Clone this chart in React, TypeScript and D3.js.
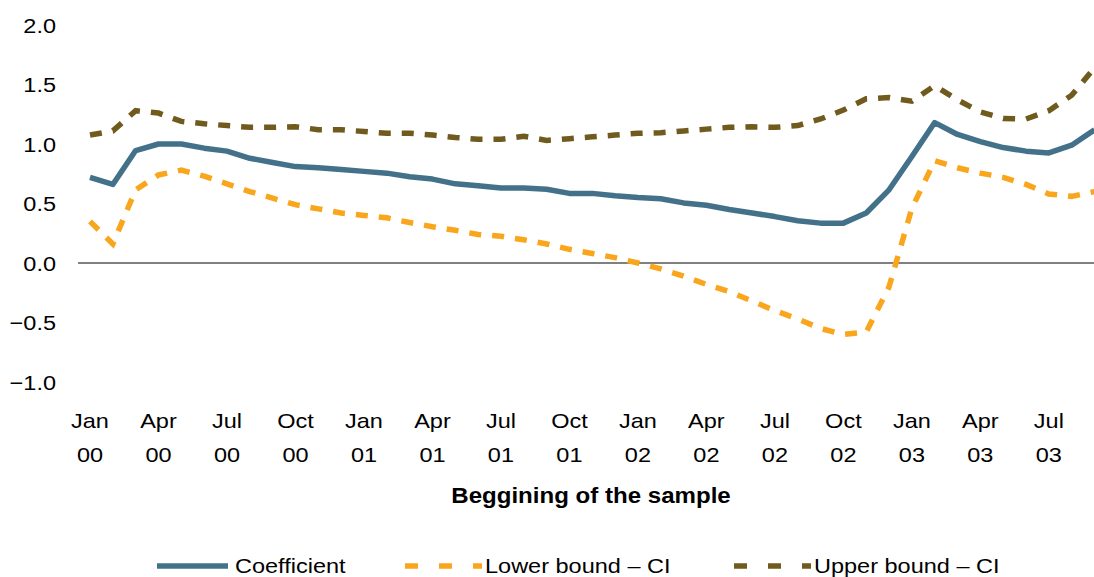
import React from "react";
import * as d3 from "d3";

// Monthly sample start dates, Jan 2000 – Sep 2003
const months = ["Jan", "Feb", "Mar", "Apr", "May", "Jun", "Jul", "Aug", "Sep", "Oct", "Nov", "Dec"];
const startYear = 2000;
const nPoints = 45;

const coefficient = [
  0.72, 0.66, 0.945, 1.0, 1.0, 0.965, 0.94, 0.88, 0.845, 0.81, 0.8, 0.785,
  0.77, 0.755, 0.725, 0.705, 0.665, 0.65, 0.63, 0.63, 0.62, 0.585, 0.585, 0.565,
  0.55, 0.54, 0.505, 0.485, 0.45, 0.42, 0.39, 0.355, 0.335, 0.335, 0.42, 0.615,
  0.895, 1.18, 1.08, 1.02, 0.97, 0.94, 0.925, 0.99, 1.12,
];

const lowerBound = [
  0.35, 0.16, 0.615, 0.74, 0.78, 0.73, 0.665, 0.6, 0.545, 0.49, 0.455, 0.42,
  0.4, 0.38, 0.34, 0.305, 0.275, 0.24, 0.225, 0.195, 0.16, 0.115, 0.08, 0.045,
  0.0, -0.05, -0.11, -0.18, -0.24, -0.32, -0.4, -0.47, -0.55, -0.6, -0.58, -0.2,
  0.46, 0.86, 0.8, 0.755, 0.72, 0.66, 0.58, 0.56, 0.6,
];

const upperBound = [
  1.075, 1.11, 1.28, 1.26, 1.19, 1.17, 1.155, 1.14, 1.14, 1.145, 1.12, 1.12,
  1.105, 1.09, 1.09, 1.075, 1.055, 1.04, 1.04, 1.065, 1.03, 1.045, 1.06, 1.075,
  1.09, 1.095, 1.11, 1.125, 1.14, 1.145, 1.14, 1.155, 1.21, 1.285, 1.38, 1.39,
  1.36, 1.49, 1.37, 1.27, 1.215, 1.21, 1.28, 1.41, 1.64,
];

const yTicks = [2.0, 1.5, 1.0, 0.5, 0.0, -0.5, -1.0];

const seriesNames = ["Coefficient", "Lower bound – CI", "Upper bound – CI"];

const W = 1094;
const H = 577;
const FONT = "'Liberation Sans', Arial, Helvetica, sans-serif";
const SX = 1.12; // horizontal text stretch

const COLORS = { coef: "#43718A", lower: "#F9A61C", upper: "#705A1E" };

const fmt = (v: number) => (v < 0 ? "\u2212" : "") + Math.abs(v).toFixed(1);

function Label(props: {
  x: number;
  y: number;
  anchor?: string;
  bold?: boolean;
  size?: number;
  children: React.ReactNode;
}) {
  const { x, y, anchor = "start", bold = false, size = 21, children } = props;
  return (
    <text
      transform={`translate(${x},${y}) scale(${SX},1)`}
      textAnchor={anchor}
      fontFamily={FONT}
      fontSize={size}
      fontWeight={bold ? "bold" : "normal"}
      fill="#000"
    >
      {children}
    </text>
  );
}

export default function App() {
  const idx = d3.range(nPoints);
  const x = d3.scaleLinear().domain([0, nPoints - 1]).range([90, 90 + 22.83 * (nPoints - 1)]);
  const y = d3.scaleLinear().domain([-1, 2]).range([382, 25]);

  const line = d3
    .line<number>()
    .x((_, i) => x(i))
    .y((d) => y(d));

  const ticks = idx.filter((i) => i % 3 === 0);

  return (
    <svg
      width={W}
      height={H}
      style={{ position: "absolute", left: 0, top: 0, background: "#fff" }}
    >
      <rect width={W} height={H} fill="#fff" />

      {/* y-axis labels */}
      {yTicks.map((t) => (
        <Label key={t} x={56} y={y(t) + 7.5} anchor="end">
          {fmt(t)}
        </Label>
      ))}

      {/* zero line */}
      <line x1={78} x2={W} y1={y(0)} y2={y(0)} stroke="#808080" strokeWidth={2} />

      {/* series */}
      <path d={line(upperBound) || ""} fill="none" stroke={COLORS.upper} strokeWidth={5.5} strokeDasharray="12,11" />
      <path d={line(lowerBound) || ""} fill="none" stroke={COLORS.lower} strokeWidth={5.5} strokeDasharray="12,11" />
      <path d={line(coefficient) || ""} fill="none" stroke={COLORS.coef} strokeWidth={5.5} strokeLinejoin="round" />

      {/* x-axis labels */}
      {ticks.map((i) => (
        <g key={i}>
          <Label x={x(i)} y={428} anchor="middle">
            {months[i % 12]}
          </Label>
          <Label x={x(i)} y={461.5} anchor="middle">
            {String((startYear + Math.floor(i / 12)) % 100).padStart(2, "0")}
          </Label>
        </g>
      ))}

      <Label x={591} y={503} anchor="middle" bold size={21.5}>
        Beggining of the sample
      </Label>

      {/* legend */}
      <line x1={157} x2={228} y1={566} y2={566} stroke={COLORS.coef} strokeWidth={5.5} />
      <Label x={235} y={572.5}>{seriesNames[0]}</Label>

      <line x1={405} x2={482} y1={566} y2={566} stroke={COLORS.lower} strokeWidth={5.5} strokeDasharray="13,21" />
      <Label x={485} y={572.5}>{seriesNames[1]}</Label>

      <line x1={734} x2={811} y1={566} y2={566} stroke={COLORS.upper} strokeWidth={5.5} strokeDasharray="13,21" />
      <Label x={814} y={572.5}>{seriesNames[2]}</Label>
    </svg>
  );
}
